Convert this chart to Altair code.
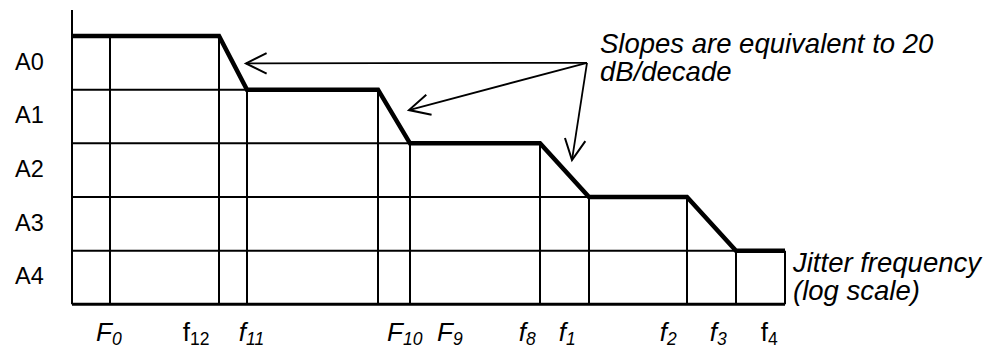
import math
import altair as alt
import pandas as pd

# ---------------- data ----------------
levels = ["A0", "A1", "A2", "A3", "A4"]
level_centre = [4.5, 3.5, 2.5, 1.5, 0.5]

freq_main = ["F", "f", "f", "F", "F", "f", "f", "f", "f", "f"]
freq_sub = ["0", "12", "11", "10", "9", "8", "1", "2", "3", "4"]
freq_italic = [True, False, True, True, True, True, True, True, True, False]
freq_pos = [38, 147, 175, 306, 338, 468, 517, 615, 664, 713]      # log-frequency position
mask_top = [5, 5, 4, 4, 3, 3, 2, 2, 1, 1]                           # mask level at each corner
label_pos = [40, 118, 174, 331, 381, 454, 494, 595, 645, 696]       # label anchor positions

grid_levels = [4, 3, 2, 1]
axis_top = 5.485

arrow_origin_x, arrow_origin_y = 515, 4.50
arrow_tip_x = [174, 337, 500]
arrow_tip_y = [4.49, 3.62, 2.69]

slope_note = ["Slopes are equivalent to 20", "dB/decade"]
slope_note_x = 528
slope_note_y = 4.683
freq_note = ["Jitter frequency", "(log scale)"]
freq_note_x = 721
freq_note_y = 0.602

label_y = -0.684

# ---------------- scales ----------------
W, H = 983, 341
XDOM = [-64, 919]
YDOM = [-0.833, 5.522]
px_per_x = W / (XDOM[1] - XDOM[0])
px_per_y = H / (YDOM[1] - YDOM[0])

FONT = "Liberation Sans"


def X(field="x"):
    return alt.X(f"{field}:Q", scale=alt.Scale(domain=XDOM, nice=False, zero=False), axis=None)


def Y(field="y"):
    return alt.Y(f"{field}:Q", scale=alt.Scale(domain=YDOM, nice=False, zero=False), axis=None)


# horizontal grid lines: each ends where the mask leaves that level
hgrid = pd.DataFrame({
    "x": [0] * len(grid_levels),
    "x2": [max(p for p, t in zip(freq_pos, mask_top) if t >= k) for k in grid_levels],
    "y": grid_levels,
})
bottom = pd.DataFrame({"x": [0], "x2": [max(freq_pos)], "y": [0]})
vgrid = pd.DataFrame({"x": freq_pos, "y": [0] * len(freq_pos), "y2": mask_top})
yaxis = pd.DataFrame({"x": [0], "y": [0], "y2": [axis_top]})
mask = pd.DataFrame({"x": [0] + freq_pos, "y": [5] + mask_top, "o": list(range(len(freq_pos) + 1))})

arrows = pd.DataFrame({
    "x": [arrow_origin_x] * 3, "y": [arrow_origin_y] * 3,
    "x2": arrow_tip_x, "y2": arrow_tip_y,
})
arrows["angle"] = [
    math.degrees(math.atan2(-(ty - arrow_origin_y) * px_per_y, (tx - arrow_origin_x) * px_per_x)) % 360
    for tx, ty in zip(arrow_tip_x, arrow_tip_y)
]

ylab = pd.DataFrame({"x": [-57] * 5, "y": level_centre, "t": levels})
xlab = pd.DataFrame({"x": label_pos, "y": [label_y] * len(label_pos),
                     "main": freq_main, "sub": freq_sub, "it": freq_italic})
notes = pd.DataFrame({"x": [slope_note_x, freq_note_x], "y": [slope_note_y, freq_note_y],
                      "t": ["\n".join(slope_note), "\n".join(freq_note)]})

layers = []
layers.append(alt.Chart(hgrid).mark_rule(color="black", strokeWidth=2).encode(x=X(), x2="x2:Q", y=Y()))
layers.append(alt.Chart(bottom).mark_rule(color="black", strokeWidth=3).encode(x=X(), x2="x2:Q", y=Y()))
layers.append(alt.Chart(vgrid).mark_rule(color="black", strokeWidth=2).encode(x=X(), y=Y(), y2="y2:Q"))
layers.append(alt.Chart(yaxis).mark_rule(color="black", strokeWidth=2).encode(x=X(), y=Y(), y2="y2:Q"))
layers.append(alt.Chart(mask).mark_line(color="black", strokeWidth=4.5, strokeJoin="miter").encode(
    x=X(), y=Y(), order="o:Q"))
layers.append(alt.Chart(arrows).mark_rule(color="black", strokeWidth=1.8).encode(
    x=X(), y=Y(), x2="x2:Q", y2="y2:Q"))
layers.append(alt.Chart(arrows).mark_point(
    shape="M -1 -0.5 L 0 0 L -1 0.5", filled=False, stroke="black", strokeWidth=2,
    size=1700, opacity=1).encode(
    x=X("x2"), y=Y("y2"), angle=alt.Angle("angle:Q", scale=None)))

layers.append(alt.Chart(ylab).mark_text(font=FONT, fontSize=23.5, align="left", baseline="middle",
                                         color="black").encode(x=X(), y=Y(), text="t:N"))

for italic in (True, False):
    sub = xlab[xlab["it"] == italic]
    style = "italic" if italic else "normal"
    layers.append(alt.Chart(sub).mark_text(font=FONT, fontSize=26, fontStyle=style, align="right",
                                            baseline="alphabetic", color="black").encode(
        x=X(), y=Y(), text="main:N"))
    layers.append(alt.Chart(sub).mark_text(font=FONT, fontSize=17.5, fontStyle=style, align="left",
                                            baseline="alphabetic", dy=3.5, color="black").encode(
        x=X(), y=Y(), text="sub:N"))

layers.append(alt.Chart(notes).mark_text(font=FONT, fontSize=27.5, fontStyle="italic", align="left",
                                          baseline="alphabetic", lineBreak="\n", lineHeight=27.5,
                                          color="black").encode(x=X(), y=Y(), text="t:N"))

chart = alt.layer(*layers).properties(
    width=W, height=H, padding=0, autosize=alt.AutoSizeParams(type="none"), background="white"
).configure_view(stroke=None)

chart.save("out.html", embed_options={"renderer": "svg", "actions": False})
